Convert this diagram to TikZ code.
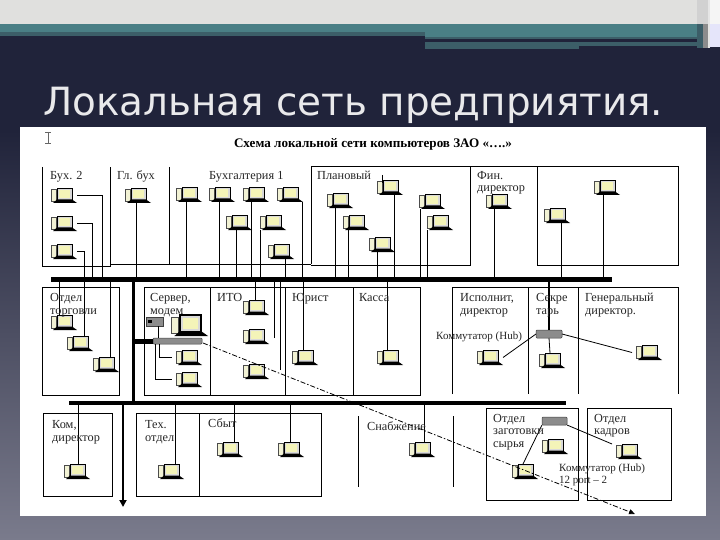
\documentclass[tikz,border=0pt]{standalone}
\usepackage{fontspec}
\setmainfont{Liberation Serif}
\newfontfamily\titlefont{DejaVu Sans}
\usetikzlibrary{arrows.meta}
\definecolor{bgdark}{HTML}{20233A}
\definecolor{bgend}{HTML}{7A7B8C}
\definecolor{teal1}{HTML}{4A7F85}
\definecolor{teal2}{HTML}{3C5E68}
\definecolor{lightband}{HTML}{E0E0DE}
\definecolor{monfill}{HTML}{F4F4B8}
\definecolor{towerfill}{HTML}{F2F2D4}
\newsavebox\compbox
\sbox\compbox{\begin{tikzpicture}[x=1pt,y=1pt]
\path[use as bounding box] (-15,0) rectangle (15,15);
\draw[fill=towerfill,draw=black!70,line width=.7pt] (-11,2) rectangle (-6,13.5);
\draw[fill=white!85!black,draw=black,line width=.9pt] (-5,3) rectangle (10,15);
\fill[monfill] (-3,5) rectangle (8,13);
\fill[black] (-9,0) -- (15,0) -- (10,3.5) -- (-5,3.5) -- cycle;
\end{tikzpicture}}
\tikzset{
 comp/.style={inner sep=0pt,outer sep=0pt},
 wire/.style={line width=.8pt,black},
 fence/.style={line width=.8pt,black},
 busbar/.style={fill=black,inner sep=0pt,outer sep=0pt},
 label/.style={anchor=base west,yshift=-4pt,inner sep=0pt,font=\fontsize{12.3}{12.5}\selectfont,text=black!85},
 hublabel/.style={label,font=\fontsize{11}{12}\selectfont},
 hubbox/.style={fill=black!45,draw=black!75,line width=.5pt,rounded corners=1pt,inner sep=0pt,outer sep=0pt},
}
\newcommand{\comp}[3]{\node[comp] (#1) at (#2,#3-7.5) {\usebox\compbox};}
\newcommand{\drop}[4][0]{\draw[wire] ([xshift=#1pt]#2.#3) -- ([xshift=#1pt]#2.#3 |- #4.center);}
\newcommand{\sidedrop}[3]{\draw[wire] (#1.east) -| ([xshift=#2pt]#1.east |- #3.center);}
\begin{document}
\begin{tikzpicture}[x=1pt,y=-1pt]
\useasboundingbox (0,0) rectangle (720,540);
% background
\fill[bgdark] (0,0) rectangle (720,131);
\shade[top color=bgdark,bottom color=bgend] (0,130) rectangle (720,540);
% top bands
\fill[lightband] (0,0) rectangle (720,24);
\fill[teal1] (0,24) rectangle (720,32);
\fill[teal2] (0,32) rectangle (425,36);
\fill[teal1] (425,32) rectangle (697,37);
\fill[teal2] (425,37) rectangle (697,39);
\fill[teal2] (579,42) rectangle (697,46);
\fill[teal2] (425,42) rectangle (579,49);
% right corner stripes
\fill[black!18] (697,0) rectangle (708,24);
\fill[teal2] (697,24) rectangle (703,48);
\fill[black!45] (703,24) rectangle (708,48);
\fill[black!10] (708,0) rectangle (710,48);
\fill[black!4] (710,0) rectangle (720,24);
\fill[black!20!blue!10!white] (710,24) rectangle (720,47);
\node[anchor=base west,inner sep=0pt,text=white!90!bgdark,font=\titlefont\fontsize{38.9}{41}\selectfont] (title) at (43,116) {Локальная сеть предприятия.};
% panel
\fill[white] (20,127) rectangle (706,516);
% cursor
\draw[black!60,line width=.7pt] (45,132) -- (51,132) (48,132) -- (48,143) (45,143) -- (51,143);
\node[anchor=center,inner sep=0pt,font=\bfseries\fontsize{13.1}{14}\selectfont] (head) at (373,144) {Схема локальной сети компьютеров ЗАО «….»};
% fences upper
\draw[fence] (42,167) -- (42,266) -- (110,266) -- (110,167);
\draw[fence] (110,264) -- (311,264);
\draw[fence] (169,167) -- (169,264);
\draw[fence] (311,264) -- (311,166) -- (678,166) -- (678,265) -- (537,265) -- (537,166);
\draw[fence] (311,265) -- (470,265) -- (470,166);
% middle
\draw[fence] (42,287) rectangle (119,395);
\draw[fence] (144,287) rectangle (420,395);
\draw[fence] (210,287) -- (210,395) (285,287) -- (285,395) (353,287) -- (353,395);
\draw[fence] (452,394) -- (452,287) -- (678,287) -- (678,394);
\draw[fence] (528,287) -- (528,394) (578,287) -- (578,394);
% lower
\draw[fence] (43,413) rectangle (112,496);
\draw[fence] (136,413) rectangle (321,496);
\draw[fence] (199,413) -- (199,496);
\draw[fence] (358,416) -- (358,487);
\draw[fence] (453,416) -- (453,487);
\draw[fence] (486,408) rectangle (578,500);
\draw[fence] (587,408) rectangle (671,500);
% buses
\node[busbar,minimum width=561pt,minimum height=5pt] (bus1) at (331.5,279) {};
\node[busbar,minimum width=497pt,minimum height=3.5pt] (bus2) at (317.5,403) {};
% computers row 1
\comp{a1}{62}{203} \comp{a2}{62}{231} \comp{a3}{62}{259}
\comp{b1}{136}{203}
\comp{d1}{187}{202} \comp{d2}{220}{202} \comp{d3}{254}{202} \comp{d4}{288}{202}
\comp{d5}{237}{230} \comp{d6}{271}{230} \comp{d7}{279}{259}
\comp{e1}{338}{208} \comp{e2}{354}{230} \comp{e3}{380}{252} \comp{e4}{388}{195}
\comp{e5}{430}{209} \comp{e6}{438}{230}
\comp{f1}{497}{209}
\comp{g1}{555}{223} \comp{g2}{605}{195}
% computers row 2
\comp{h1}{62}{330} \comp{h2}{78}{351} \comp{h3}{104}{372}
\comp{s1}{187}{365} \comp{s2}{187}{387}
\comp{i1}{254}{315} \comp{i2}{254}{344} \comp{i3}{254}{379}
\comp{j1}{303}{365} \comp{k1}{388}{365}
\comp{l1}{488}{365} \comp{m1}{550}{368} \comp{n1}{647}{360}
% computers row 3
\comp{o1}{75}{479} \comp{p1}{169}{479} \comp{q1}{228}{457} \comp{q2}{289}{457}
\comp{r1}{420}{457} \comp{t1}{523}{479} \comp{t2}{553}{454} \comp{u1}{627}{459}
% server
\node[comp,anchor=south] (srv) at (187,336) {\scalebox{1.4}{\usebox\compbox}};
\node[hubbox,minimum width=49pt,minimum height=6pt] (sw1) at (177.5,341) {};
\node[hubbox,rounded corners=0pt,minimum width=17pt,minimum height=9pt] (modem) at (154.5,321.5) {};
\fill[black] (148,320) rectangle (152,323);
\node[hubbox,minimum width=26pt,minimum height=8pt] (sw2) at (549,334) {};
\node[hubbox,minimum width=25pt,minimum height=8pt] (sw3) at (554.5,421) {};
% wires to upper bus
\sidedrop{a1}{25}{bus1}
\sidedrop{a2}{15}{bus1}
\sidedrop{a3}{7}{bus1}
\drop{b1}{south}{bus1}
\drop[-1]{d1}{south}{bus1}
\drop[-1]{d2}{south}{bus1}
\drop[-3]{d3}{south}{bus1}
\drop[14]{d4}{south}{bus1}
\drop[-1]{d5}{south}{bus1}
\drop[-11]{d6}{south}{bus1}
\drop[6]{d7}{south}{bus1}
\drop[-3]{e1}{south}{bus1}
\drop[-6]{e2}{south}{bus1}
\drop[-3]{e3}{south}{bus1}
\drop[6]{e4}{south}{bus1}
\drop[-10]{e5}{south}{bus1}
\drop[-11]{e6}{south}{bus1}
\drop[-3]{f1}{south}{bus1}
\drop[6]{g1}{south}{bus1}
\drop[-2]{g2}{south}{bus1}
\drop[-3]{h1}{north}{bus1}
\drop[6]{h2}{north}{bus1}
\drop[6]{h3}{north}{bus1}
\drop[1]{i1}{north}{bus1}
\coordinate (i2end) at (274,338);
\coordinate (i3end) at (280,370);
\draw[wire] (i2end) -- (i2end |- bus1.center);
\draw[wire] (i3end) -- (i3end |- bus1.center);
\drop{j1}{north}{bus1}
\drop[-1]{k1}{north}{bus1}
\draw[fence] (382,175) -- (382,183);
% wires to lower bus
\drop[3]{o1}{north}{bus2}
\drop[6]{p1}{north}{bus2}
\drop[6]{q1}{north}{bus2}
\drop[1]{q2}{north}{bus2}
\drop[4]{r1}{north}{bus2}
% backbone
\node[busbar,minimum width=3pt,minimum height=124pt] (spine) at (133,341) {};
\draw[line width=5pt] (spine.center) -- (sw1.west);
\coordinate (arrowend) at (123,507);
\draw[line width=2.4pt,-{Triangle[length=7pt,width=7pt]}] (arrowend |- bus2.center) -- (arrowend);
% server room
\draw[wire] ([xshift=3.5pt]modem.south) -- ([xshift=3.5pt]modem.south |- sw1.north);
\coordinate (sa) at (159,344);
\coordinate (sb) at (155,344);
\draw[wire] (sa) |- (s1.west);
\draw[wire] (sb) |- (s2.west);
% hub 2
\draw[line width=2.2pt] (sw2.north |- bus1.center) -- (sw2.north);
\draw[wire] (sw2.south) -- (m1.north);
\draw[wire] (sw2.west) -- (l1.east);
\draw[wire] (sw2.east) -- (n1.west);
% hub 3
\draw[wire] (sw3.south west) -- (t1.north);
\draw[wire] (sw3.south east) -- (u1.north west);
% dashed long line
\coordinate (ds) at (203,343);
\coordinate (de) at (635,514);
\draw[line width=.8pt,dash pattern=on 5pt off 2pt on 1.5pt off 2pt,-{Triangle[length=6pt,width=5pt]}] (ds) -- (de);
% labels
\node[label] (tA) at (50,176) {Бух. 2};
\node[label] (tB) at (117,176) {Гл. бух};
\node[label] (tC) at (209,176) {Бухгалтерия 1};
\node[label] (tD) at (317,176) {Плановый};
\node[label] (tE) at (477,176) {Фин.};
\node[label] (tE2) at (477,188) {директор};
\node[label] (tF) at (50,297) {Отдел};
\node[label] (tF2) at (50,310) {торговли};
\node[label] (tG) at (150,297) {Сервер,};
\node[label] (tG2) at (150,310) {модем};
\node[label] (tH) at (217,297) {ИТО};
\node[label] (tI) at (292,297) {Юрист};
\node[label] (tJ) at (359,297) {Касса};
\node[label] (tK) at (460,297) {Исполнит,};
\node[label] (tK2) at (460,310) {директор};
\node[label] (tL) at (536,297) {Секре};
\node[label] (tL2) at (536,310) {тарь};
\node[label] (tM) at (585,297) {Генеральный};
\node[label] (tM2) at (585,310) {директор.};
\node[hublabel] (tN) at (436,335) {Коммутатор (Hub)};
\node[label] (tO) at (52,424) {Ком,};
\node[label] (tO2) at (52,437) {директор};
\node[label] (tP) at (145,424) {Тех.};
\node[label] (tP2) at (145,437) {отдел};
\node[label] (tQ) at (208,423) {Сбыт};
\node[label] (tR) at (367,426) {Снабжение};
\node[label] (tS) at (493,418) {Отдел};
\node[label] (tS2) at (493,430) {заготовки};
\node[label] (tS3) at (493,443) {сырья};
\node[label] (tU) at (594,418) {Отдел};
\node[label] (tU2) at (594,430) {кадров};
\node[hublabel] (tV) at (559,467) {Коммутатор (Hub)};
\node[hublabel] (tV2) at (559,479) {12 port – 2};
\end{tikzpicture}
\end{document}
